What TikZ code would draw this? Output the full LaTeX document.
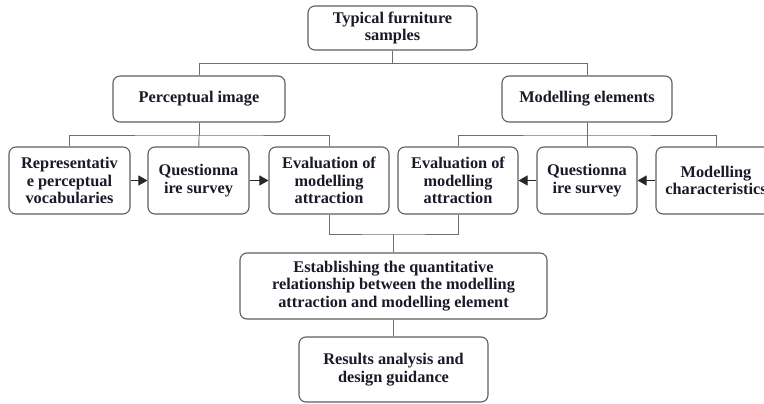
\documentclass[tikz,border=0pt]{standalone}
\usepackage{fontspec}
\setmainfont{Liberation Serif}
\usetikzlibrary{arrows.meta}
\usetikzlibrary{positioning}
\definecolor{boxgray}{RGB}{95,95,95}
\definecolor{linkgray}{RGB}{110,110,110}
\definecolor{inkdark}{RGB}{25,25,40}
\tikzstyle{stagebox}=[draw=boxgray, line width=1.1pt, rounded corners=7pt,
    fill=white, align=center, inner sep=0pt, text=inkdark,
    font=\fontsize{16.3}{17.6}\selectfont\bfseries]
\tikzstyle{link}=[draw=linkgray, line width=0.9pt]
\tikzstyle{flow}=[draw=black!85, line width=1pt, -{Triangle[length=9pt,width=10pt]}]

\begin{document}
\begin{tikzpicture}[x=1pt, y=-1pt]
          \clip (0,0) rectangle (764,404);
          \node[stagebox, minimum width=169pt, minimum height=44pt] (samples) at (392.5,28){Typical furniture\\samples};
          \node[stagebox, minimum width=172pt, minimum height=46pt] (percept) at (199,99){Perceptual image};
          \node[stagebox, minimum width=170pt, minimum height=46pt] (modelel) at (587,99){Modelling elements};
          % left branch
          \node[stagebox, minimum width=121pt, minimum height=67pt] (vocab) at (69.5,180.5){Representativ\\e perceptual\\vocabularies};
          \node[stagebox, minimum width=101pt, minimum height=67pt] (questl) at (198.5,180.5){Questionna\\ire survey};
          \node[stagebox, minimum width=120pt, minimum height=67pt] (evall) at (329,180.5){Evaluation of\\modelling\\attraction};
          % right branch
          \node[stagebox, minimum width=120pt, minimum height=67pt] (evalr) at (458,180.5){Evaluation of\\modelling\\attraction};
          \node[stagebox, minimum width=100pt, minimum height=67pt] (questr) at (587,180.5){Questionna\\ire survey};
          \node[stagebox, minimum width=120pt, minimum height=67pt] (charac) at (716,180.5){Modelling\\characteristics};
          % bottom
          \node[stagebox, minimum width=307pt, minimum height=66pt] (relation) at (393.5,286){Establishing the quantitative\\relationship between the modelling\\attraction and modelling element};
          \node[stagebox, minimum width=189pt, minimum height=65pt] (results) at (393.5,369.5){Results analysis and\\design guidance};
          \coordinate (jtop) at (392.5,63);
          \coordinate (jleft) at (199,135);
          \coordinate (jright) at (587,135);
          \coordinate (jmid) at (393.5,234);
          \draw[link](samples) -- (jtop) -| (percept);
          \draw[link](jtop) -| (modelel);
          \draw[link](percept) -- (jleft);
          \draw[link](vocab) |- (jleft) -| (evall);
          \draw[link](jleft) -- (questl);
          \draw[link](modelel) -- (jright);
          \draw[link](evalr) |- (jright) -| (charac);
          \draw[link](jright) -- (questr);
          \draw[link](evall) |- (jmid) -| (evalr);
          \draw[link](jmid) -- (relation);
          \draw[link](relation) -- (results);
          \draw[flow](vocab) -- (questl);
          \draw[flow](questl) -- (evall);
          \draw[flow](charac) -- (questr);
          \draw[flow](questr) -- (evalr);
        \end{tikzpicture}
\end{document}
